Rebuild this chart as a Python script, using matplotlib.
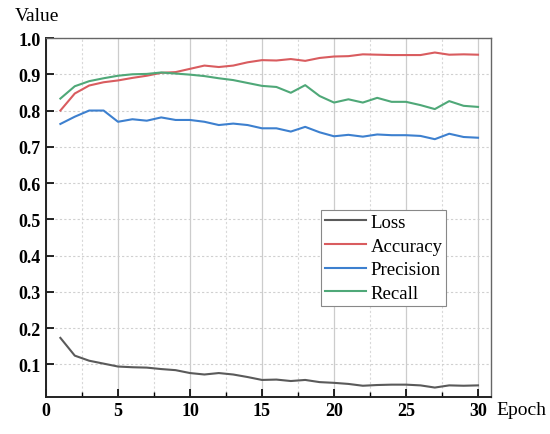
import numpy as np
import matplotlib
matplotlib.use('Agg')
import matplotlib.pyplot as plt
from matplotlib.ticker import MultipleLocator

plt.rcParams['font.family'] = ['Liberation Serif', 'DejaVu Serif']

epochs = list(range(1, 31))
loss = [0.173, 0.124, 0.110, 0.102, 0.094, 0.092, 0.091, 0.087, 0.084, 0.076,
        0.072, 0.076, 0.072, 0.065, 0.057, 0.058, 0.054, 0.057, 0.051, 0.049,
        0.046, 0.041, 0.043, 0.044, 0.044, 0.042, 0.036, 0.042, 0.041, 0.042]
accuracy = [0.800, 0.847, 0.869, 0.878, 0.883, 0.890, 0.896, 0.904, 0.906, 0.915,
            0.924, 0.920, 0.924, 0.933, 0.939, 0.938, 0.942, 0.937, 0.945, 0.949,
            0.950, 0.955, 0.954, 0.953, 0.953, 0.953, 0.960, 0.954, 0.955, 0.954]
precision = [0.763, 0.783, 0.800, 0.800, 0.769, 0.776, 0.772, 0.781, 0.774, 0.774,
             0.769, 0.760, 0.764, 0.760, 0.751, 0.751, 0.742, 0.755, 0.740, 0.729,
             0.733, 0.728, 0.734, 0.732, 0.732, 0.730, 0.721, 0.736, 0.727, 0.725]
recall = [0.833, 0.867, 0.881, 0.889, 0.896, 0.900, 0.901, 0.905, 0.902, 0.899,
          0.895, 0.889, 0.884, 0.876, 0.868, 0.865, 0.849, 0.870, 0.840, 0.822,
          0.831, 0.822, 0.835, 0.824, 0.824, 0.815, 0.804, 0.826, 0.813, 0.810]

fig = plt.figure(figsize=(5.5, 4.35), dpi=100)
ax = fig.add_axes([0.0836, 0.0851, 0.8091, 0.8252])

ax.plot(epochs, loss, color='#5a5a5a', lw=1.5, label='Loss')
ax.plot(epochs, accuracy, color='#d95c5f', lw=1.5, label='Accuracy')
ax.plot(epochs, precision, color='#3d80cf', lw=1.5, label='Precision')
ax.plot(epochs, recall, color='#4fa878', lw=1.5, label='Recall')

ax.set_xlim(0, 30.9)
ax.set_ylim(0.01, 1.0)
ax.xaxis.set_major_locator(MultipleLocator(5))
ax.xaxis.set_minor_locator(MultipleLocator(2.5))
ax.set_yticks(np.arange(0.1, 1.01, 0.1))
ax.set_yticklabels(['%.1f' % v for v in np.arange(0.1, 1.01, 0.1)])

ax.grid(which='major', axis='x', color='#cccccc', lw=0.9, ls='-')
ax.grid(which='minor', axis='x', color='#d8d8d8', lw=0.8, ls=(0, (2, 2)))
ax.grid(which='major', axis='y', color='#d0d0d0', lw=0.8, ls=(0, (2, 2)))
ax.set_axisbelow(True)

ax.tick_params(which='major', direction='in', length=6, width=1.2, labelsize=13)
ax.tick_params(which='minor', direction='in', length=3.5, width=1.0)
ax.tick_params(axis='y', which='minor', length=0)
for lab in ax.get_xticklabels() + ax.get_yticklabels():
    lab.set_fontweight('bold')

for s in ['left', 'bottom']:
    ax.spines[s].set_linewidth(1.4)
    ax.spines[s].set_color('#222222')
for s in ['top', 'right']:
    ax.spines[s].set_linewidth(1.0)
    ax.spines[s].set_color('#666666')

fig.text(0.027, 0.962, 'Value', fontsize=14, ha='left', va='center')
fig.text(0.903, 0.057, 'Epoch', fontsize=14, ha='left', va='center')

leg = ax.legend(loc='upper left', bbox_to_anchor=(0.618, 0.521), borderaxespad=0,
                fontsize=13.5, fancybox=False, edgecolor='#888888', framealpha=1,
                handlelength=2.2, labelspacing=0.35, handletextpad=0.25,
                borderpad=0.2)
leg.get_frame().set_linewidth(0.8)

fig.savefig('out.png', dpi=100)
